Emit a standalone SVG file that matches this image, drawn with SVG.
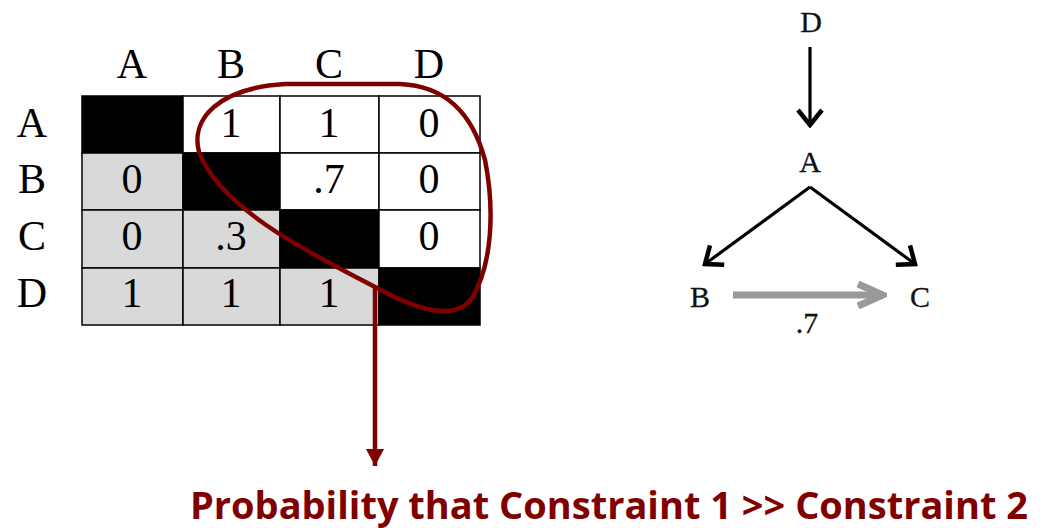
<svg xmlns="http://www.w3.org/2000/svg" width="1061" height="528" viewBox="0 0 1061 528">
<style>
.lbl{font-family:"Liberation Serif",serif;font-size:42px;text-anchor:middle;fill:#000}
.g{font-family:"Liberation Serif",serif;font-size:30px;text-anchor:middle;fill:#111;stroke:#111;stroke-width:0.3}
.cell{stroke:#000;stroke-width:1.5}
.bk{fill:#000}.wh{fill:#fff}.gr{fill:#d9d9d9}
.edge{fill:none;stroke:#000;stroke-width:3.2}
</style>
<defs>
<marker id="chev" markerUnits="userSpaceOnUse" viewBox="-18 -15 21 30" markerWidth="21" markerHeight="30" refX="0" refY="0" orient="auto">
<path d="M-15,-12 L0,0 L-15,12" fill="none" stroke="#000" stroke-width="4.5" stroke-linejoin="miter"/>
</marker>
<marker id="chevg" markerUnits="userSpaceOnUse" viewBox="-30 -16 34 32" markerWidth="34" markerHeight="32" refX="0" refY="0" orient="auto">
<path d="M-25,-11 L0,0 L-25,11" fill="none" stroke="#999" stroke-width="7"/>
</marker>
<marker id="redarr" markerUnits="userSpaceOnUse" viewBox="-18 -10 20 20" markerWidth="20" markerHeight="20" refX="0" refY="0" orient="auto">
<path d="M-17,-9 L0,0 L-17,9 Z" fill="#800000"/>
</marker>
</defs>
<g id="matrix">
<text class="lbl" x="132" y="78">A</text>
<text class="lbl" x="231" y="78">B</text>
<text class="lbl" x="329" y="78">C</text>
<text class="lbl" x="429" y="78">D</text>
<text class="lbl" x="32" y="137">A</text>
<text class="lbl" x="32" y="193">B</text>
<text class="lbl" x="32" y="250">C</text>
<text class="lbl" x="32" y="307">D</text>
<rect class="cell bk" x="82" y="96" width="101" height="57"/>
<rect class="cell wh" x="183" y="96" width="97" height="57"/>
<rect class="cell wh" x="280" y="96" width="99" height="57"/>
<rect class="cell wh" x="379" y="96" width="101" height="57"/>
<rect class="cell gr" x="82" y="153" width="101" height="57"/>
<rect class="cell bk" x="183" y="153" width="97" height="57"/>
<rect class="cell wh" x="280" y="153" width="99" height="57"/>
<rect class="cell wh" x="379" y="153" width="101" height="57"/>
<rect class="cell gr" x="82" y="210" width="101" height="58"/>
<rect class="cell gr" x="183" y="210" width="97" height="58"/>
<rect class="cell bk" x="280" y="210" width="99" height="58"/>
<rect class="cell wh" x="379" y="210" width="101" height="58"/>
<rect class="cell gr" x="82" y="268" width="101" height="57"/>
<rect class="cell gr" x="183" y="268" width="97" height="57"/>
<rect class="cell gr" x="280" y="268" width="99" height="57"/>
<rect class="cell bk" x="379" y="268" width="101" height="57"/>
<text class="lbl" x="231" y="137">1</text>
<text class="lbl" x="329" y="137">1</text>
<text class="lbl" x="429" y="137">0</text>
<text class="lbl" x="132" y="193">0</text>
<text class="lbl" x="329" y="193">.7</text>
<text class="lbl" x="429" y="193">0</text>
<text class="lbl" x="132" y="250">0</text>
<text class="lbl" x="231" y="250">.3</text>
<text class="lbl" x="429" y="250">0</text>
<text class="lbl" x="132" y="307">1</text>
<text class="lbl" x="231" y="307">1</text>
<text class="lbl" x="329" y="307">1</text>
</g>
<g id="loop">
<path d="M377,288 C320,258 222,212 199,152 C190,118 220,88 285,84 L400,84 C445,86 472,112 485,160 C495,210 492,265 472,298 C458,318 428,316 377,288 Z" fill="none" stroke="#800000" stroke-width="4.5"/>
<line x1="375" y1="287" x2="375" y2="466" stroke="#800000" stroke-width="4.5" marker-end="url(#redarr)"/>
</g>
<g id="caption">
<text x="190" y="519" textLength="838" lengthAdjust="spacingAndGlyphs" style="font-family:'Open Sans',sans-serif;font-weight:bold;font-size:37px;fill:#800000">Probability that Constraint 1 &gt;&gt; Constraint 2</text>
</g>
<g id="node-D"><text class="g" x="811" y="32">D</text></g>
<g id="node-A"><text class="g" x="810" y="172">A</text></g>
<g id="node-B"><text class="g" x="700" y="307">B</text></g>
<g id="node-C"><text class="g" x="920" y="307">C</text></g>
<g id="connectors">
<line class="edge" x1="810" y1="47" x2="810" y2="125" marker-end="url(#chev)"/>
<line class="edge" x1="810" y1="187" x2="705" y2="264" marker-end="url(#chev)"/>
<line class="edge" x1="810" y1="187" x2="915" y2="264" marker-end="url(#chev)"/>
<line x1="733" y1="295" x2="883" y2="295" stroke="#999" stroke-width="7" marker-end="url(#chevg)"/>
<text class="g" x="807" y="333">.7</text>
</g>
</svg>
